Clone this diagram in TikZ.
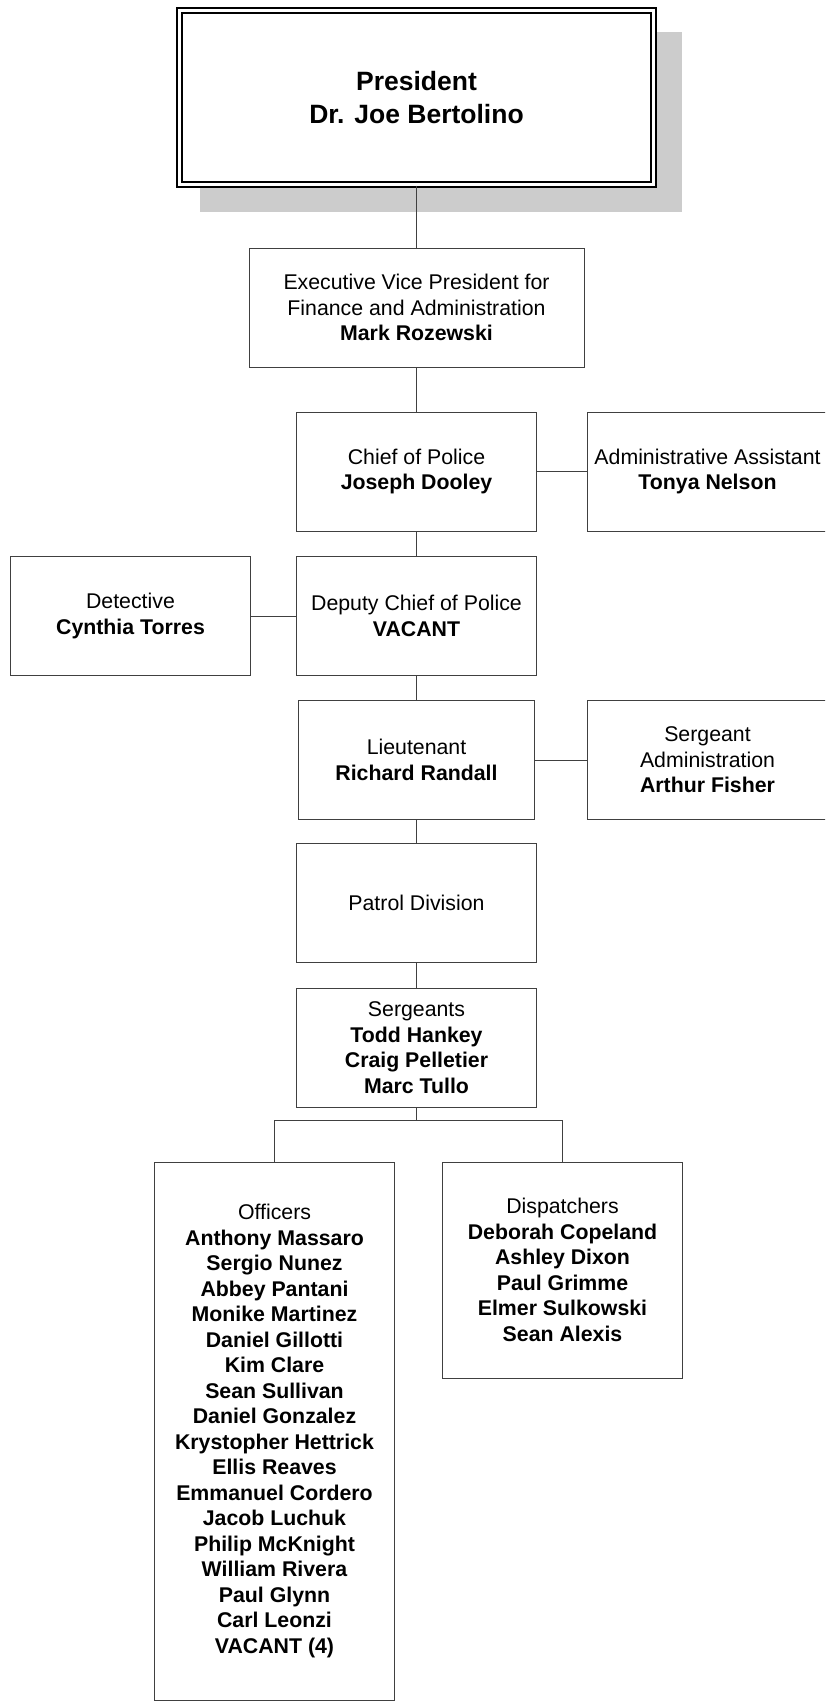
\documentclass[tikz,border=0pt]{standalone}
\usepackage{fontspec}
\setmainfont{Liberation Sans}
\usepackage{tikz}
\usetikzlibrary{positioning}
\definecolor{shadowgray}{gray}{0.8}
\definecolor{frame}{gray}{0.25}
\tikzset{%
  % Specifications for style of nodes:
        base/.style = {rectangle, draw=frame, line width=1pt, fill=white,
                       minimum width=240pt, minimum height=119pt,
                       inner sep=0pt, align=center, text=black,
                       font=\fontsize{21.3}{25.5}\selectfont},
   president/.style = {base, draw=black, line width=2pt, double=white,
                       double distance=3pt,
                       minimum width=474pt, minimum height=174pt,
                       font=\fontsize{26.5}{33}\selectfont\bfseries},
        wide/.style = {base, minimum width=335pt},
       staff/.style = {base, minimum height=#1},
        link/.style = {draw=frame, line width=1pt},
}
\begin{document}
\begin{tikzpicture}
  \clip (0,0) rectangle (825pt,-1702pt);
  % shadow behind the top box
  \fill[shadowgray] (200pt,-32pt) rectangle (682pt,-212pt);
  % Specification of nodes (position, etc.)
  \node (pres) [president] at (416.5pt,-97.5pt) {President\\Dr. Joe Bertolino};
  \node (evp)      [wide, below of=pres, node distance=210pt]
        {Executive Vice President for\\Finance and Administration\\\textbf{Mark Rozewski}};
  \node (chief)    [base, below of=evp, node distance=164pt]
        {Chief of Police\\\textbf{Joseph Dooley}};
  \node (assist)   [base, right of=chief, node distance=291pt]
        {Administrative Assistant\\\textbf{Tonya Nelson}};
  \node (deputy)   [base, below of=chief, node distance=144.5pt]
        {Deputy Chief of Police\\\textbf{VACANT}};
  \node (detect)   [base, left of=deputy, node distance=286pt]
        {Detective\\\textbf{Cynthia Torres}};
  \node (lieut)    [base, minimum width=236pt, below of=deputy, node distance=144pt]
        {Lieutenant\\\textbf{Richard Randall}};
  \node (sgtadmin) [base, right of=lieut, node distance=291pt]
        {Sergeant\\Administration\\\textbf{Arthur Fisher}};
  \node (patrol)   [base, below of=lieut, node distance=143pt] {Patrol Division};
  \node (sgts)     [base, below of=patrol, node distance=144.5pt]
        {Sergeants\\\textbf{Todd Hankey}\\\textbf{Craig Pelletier}\\\textbf{Marc Tullo}};
  \node (officers) [staff=538pt] at (274.5pt,-1431pt)
        {Officers\\\textbf{Anthony Massaro}\\\textbf{Sergio Nunez}\\\textbf{Abbey Pantani}\\
         \textbf{Monike Martinez}\\\textbf{Daniel Gillotti}\\\textbf{Kim Clare}\\
         \textbf{Sean Sullivan}\\\textbf{Daniel Gonzalez}\\\textbf{Krystopher Hettrick}\\
         \textbf{Ellis Reaves}\\\textbf{Emmanuel Cordero}\\\textbf{Jacob Luchuk}\\
         \textbf{Philip McKnight}\\\textbf{William Rivera}\\\textbf{Paul Glynn}\\
         \textbf{Carl Leonzi}\\\textbf{VACANT (4)}};
  \node (dispatch) [staff=216pt] at (562.5pt,-1270pt)
        {Dispatchers\\\textbf{Deborah Copeland}\\\textbf{Ashley Dixon}\\
         \textbf{Paul Grimme}\\\textbf{Elmer Sulkowski}\\\textbf{Sean Alexis}};
  \coordinate (bus) at (416.5pt,-1120pt);
  % Specification of lines between nodes specified above
  \draw[link] (pres) -- (evp);
  \draw[link] (evp) -- (chief);
  \draw[link] (chief) -- (assist);
  \draw[link] (chief) -- (deputy);
  \draw[link] (deputy) -- (detect);
  \draw[link] (deputy) -- (lieut);
  \draw[link] (lieut) -- (sgtadmin);
  \draw[link] (lieut) -- (patrol);
  \draw[link] (patrol) -- (sgts);
  \draw[link] (sgts) -- (bus);
  \draw[link] (bus) -| (officers);
  \draw[link] (bus) -| (dispatch);
\end{tikzpicture}
\end{document}
